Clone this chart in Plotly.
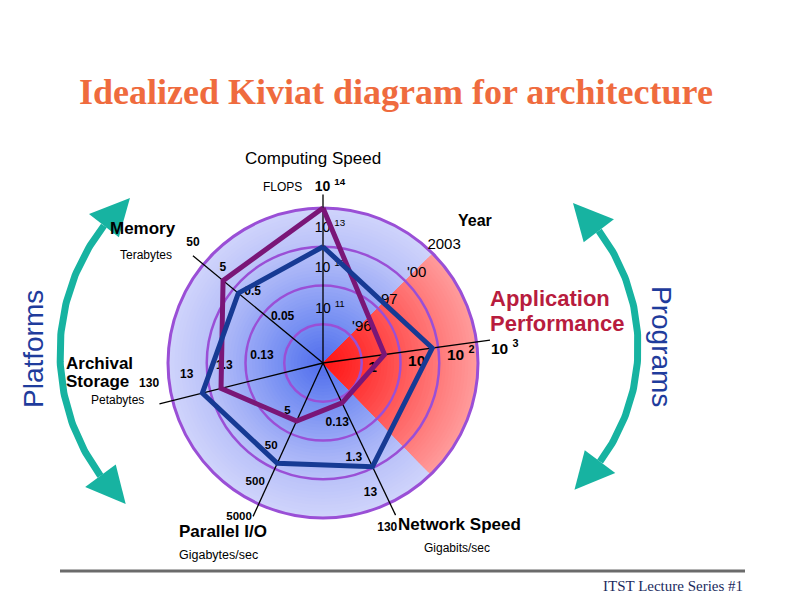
import numpy as np
import plotly.graph_objects as go

# ---------------- data ----------------
axis_names = ["Computing Speed", "Application Performance", "Network Speed",
              "Parallel I/O", "Archival Storage", "Memory"]
axis_units = ["FLOPS", "", "Gigabits/sec", "Gigabytes/sec", "Petabytes", "Terabytes"]
tick_values = [
    [1e11, 1e12, 1e13, 1e14],
    [1, 10, 100, 1000],
    [0.13, 1.3, 13, 130],
    [5, 50, 500, 5000],
    [0.13, 1.3, 13, 130],
    [0.05, 0.5, 5, 50],
]
tick_labels = [
    ["10 <sup>11</sup>", "10 <sup>12</sup>", "10 <sup>13</sup>", "<b>10 <sup>14</sup></b>"],
    ["<b>1</b>", "<b>10</b>", "<b>10 <sup>2</sup></b>", "<b>10 <sup>3</sup></b>"],
    ["<b>0.13</b>", "<b>1.3</b>", "<b>13</b>", "<b>130</b>"],
    ["<b>5</b>", "<b>50</b>", "<b>500</b>", "<b>5000</b>"],
    ["<b>0.13</b>", "<b>1.3</b>", "<b>13</b>", "<b>130</b>"],
    ["<b>0.05</b>", "<b>0.5</b>", "<b>5</b>", "<b>50</b>"],
]
purple_values = [1e14, 4, 0.18, 22, 6.7, 11]
blue_values = [1e13, 70, 12, 350, 21, 3.4]
year_labels = ["'96", "97", "'00", "2003"]

# ---------------- layout / style ----------------
W, H = 792, 612
CX, CY = 323, 363          # pixel position of the chart centre
S = 38.75                  # pixels per ring (one decade)
N_RINGS = 4
SPOKE_LEN = 4.35
axis_angles = [90, 7.8, -64.5, -114.5, -166, 140.5]
label_stretch = [1.05, 1.148, 1.0, 1.0, 1.0, 1.0]
label_offsets = [(7, 12.8), (5.5, -11.2), (-2.5, -25.5), (-19.6, -12.9), (-23.5, 16.2), (-10.5, 21.4)]
label_sizes = [14, 15.5, 12, 11.5, 12, 12]
YEAR_ANGLE = 45
YEAR_OFFSET = (11.5, 8)
SECTOR = (-46, 45)
SANS = "Liberation Sans, Arial, sans-serif"
SERIF = "Liberation Serif, Times New Roman, serif"
PURPLE = "#7a1677"
BLUE = "#163a94"
RING = "#9a4fd6"
TEAL = "#17b3a1"
NAVY = "#1f3c9c"


def level(v, ticks):
    return 1 + np.log10(v / ticks[0])


def px2d(px, py):
    return (px - CX) / S, (CY - py) / S


def pol(r, ang):
    a = np.deg2rad(ang)
    return r * np.cos(a), r * np.sin(a)


def rgb(stops, t):
    stops = np.asarray(stops, float)
    ts = np.linspace(0, 1, len(stops))
    c = [np.interp(t, ts, stops[:, k]) for k in range(3)]
    return "rgb(%d,%d,%d)" % tuple(int(round(x)) for x in c)


fig = go.Figure()
shapes = []

# background radial gradient (blue disc)
blue_stops = [[80, 108, 236], [114, 140, 242], [152, 168, 246], [186, 194, 249], [208, 212, 251]]
NL = 48
for i in range(NL, 0, -1):
    r = N_RINGS * i / NL
    shapes.append(dict(type="circle", xref="x", yref="y", x0=-r, x1=r, y0=-r, y1=r,
                       fillcolor=rgb(blue_stops, (i - 0.5) / NL), line=dict(width=0), layer="below"))

# red sector gradient
red_stops = [[255, 20, 20], [255, 50, 50], [255, 86, 86], [255, 122, 122], [255, 156, 156]]
angs = np.linspace(SECTOR[0], SECTOR[1], 60)
for i in range(NL, 0, -1):
    r = N_RINGS * i / NL
    xs, ys = pol(r, angs)
    path = "M 0,0 " + " ".join("L %.4f,%.4f" % (a, b) for a, b in zip(xs, ys)) + " Z"
    shapes.append(dict(type="path", xref="x", yref="y", path=path,
                       fillcolor=rgb(red_stops, (i - 0.5) / NL), line=dict(width=0), layer="below"))

# rings
for k in range(1, N_RINGS + 1):
    shapes.append(dict(type="circle", xref="x", yref="y", x0=-k, x1=k, y0=-k, y1=k,
                       line=dict(color=RING, width=2.5 if k < N_RINGS else 3), layer="below"))

# bottom rule
shapes.append(dict(type="line", xref="paper", yref="paper", x0=60 / W, x1=745 / W,
                   y0=1 - 571 / H, y1=1 - 571 / H, line=dict(color="#6b6b6b", width=3)))

# spokes
for ang in axis_angles:
    x1, y1 = pol(SPOKE_LEN, ang)
    fig.add_trace(go.Scatter(x=[0, x1], y=[0, y1], mode="lines",
                             line=dict(color="black", width=1.3), hoverinfo="skip", showlegend=False))

# tick labels (under the profiles, as in the original)
for ang, ticks, labs, st, off, fs in zip(axis_angles, tick_values, tick_labels, label_stretch,
                                         label_offsets, label_sizes):
    lv = np.array([level(v, ticks) for v in ticks]) * st
    xs, ys = pol(lv, ang)
    fig.add_trace(go.Scatter(x=xs + off[0] / S, y=ys + off[1] / S, mode="text", text=labs,
                             textposition="middle center",
                             textfont=dict(family=SANS, size=fs, color="black"),
                             hoverinfo="skip", showlegend=False))

# year labels along the sector edge
yl = np.arange(1, len(year_labels) + 1)
xs, ys = pol(yl, YEAR_ANGLE)
fig.add_trace(go.Scatter(x=xs + YEAR_OFFSET[0] / S, y=ys + YEAR_OFFSET[1] / S, mode="text",
                         text=year_labels, textposition="middle center",
                         textfont=dict(family=SANS, size=15, color="black"),
                         hoverinfo="skip", showlegend=False))

# profiles
for vals, col, name in [(purple_values, PURPLE, "purple"), (blue_values, BLUE, "blue")]:
    lv = np.array([level(v, t) for v, t in zip(vals, tick_values)])
    xs, ys = pol(lv, np.array(axis_angles))
    fig.add_trace(go.Scatter(x=np.append(xs, xs[0]), y=np.append(ys, ys[0]), mode="lines",
                             line=dict(color=col, width=5), name=name, hoverinfo="skip",
                             showlegend=False))


# teal double-headed arc arrows (pixel geometry)
def arc_arrow(cxp, cyp, R, a0, a1, hl=38, hw=19):
    dh = np.rad2deg(hl / R)
    a = np.deg2rad(np.linspace(a0 + dh, a1 - dh, 80))
    px = cxp + R * np.cos(a)
    py = cyp + R * np.sin(a)
    x, y = px2d(px, py)
    fig.add_trace(go.Scatter(x=x, y=y, mode="lines", line=dict(color=TEAL, width=7),
                             hoverinfo="skip", showlegend=False))
    for tip_a, base_a in [(a0, a0 + dh), (a1, a1 - dh)]:
        ta, ba = np.deg2rad(tip_a), np.deg2rad(base_a)
        tip = (cxp + R * np.cos(ta), cyp + R * np.sin(ta))
        bc = (cxp + R * np.cos(ba), cyp + R * np.sin(ba))
        nrm = (np.cos(ba), np.sin(ba))
        c1 = (bc[0] + hw * nrm[0], bc[1] + hw * nrm[1])
        c2 = (bc[0] - hw * nrm[0], bc[1] - hw * nrm[1])
        hx, hy = px2d(np.array([tip[0], c1[0], c2[0], tip[0]]), np.array([tip[1], c1[1], c2[1], tip[1]]))
        fig.add_trace(go.Scatter(x=hx, y=hy, mode="lines", fill="toself", fillcolor=TEAL,
                                 line=dict(width=0, color=TEAL), hoverinfo="skip", showlegend=False))


arc_arrow(266.6, 353, 206.6, 133, 228.6)
arc_arrow(446, 347, 192, -48.6, 48.0)

# ---------------- text annotations ----------------
ann = []


def A(text, x, y, size, color="black", family=SANS, xanchor="center", angle=0):
    ann.append(dict(text=text, x=x / W, y=1 - y / H, xref="paper", yref="paper", showarrow=False,
                    xanchor=xanchor, yanchor="middle", textangle=angle,
                    font=dict(family=family, size=size, color=color)))


A("<b>Idealized Kiviat diagram for architecture</b>", 396, 92, 36, "#ef6b3e", SERIF)
A(axis_names[0], 313, 159, 17)
A(axis_units[0], 282, 187, 12)
A("<b>" + axis_names[5] + "</b>", 143, 228, 17)
A(axis_units[5], 146, 255, 12)
A("<b>Year</b>", 475, 220, 16)
A("<b>Application</b>", 488, 298, 22, "#b81c3e", xanchor="left")
A("<b>Performance</b>", 488, 323, 22, "#b81c3e", xanchor="left")
A("Programs", 662, 346, 28, NAVY, angle=90)
A("Platforms", 33, 349, 28, NAVY, angle=-90)
A("<b>Archival</b>", 64, 363, 17, xanchor="left")
A("<b>Storage</b>", 64, 381, 17, xanchor="left")
A(axis_units[4], 118, 400, 12)
A("<b>" + axis_names[3] + "</b>", 223, 531, 17)
A(axis_units[3], 219, 555, 12.5)
A("<b>" + axis_names[2] + "</b>", 459, 524, 17)
A(axis_units[2], 457, 548, 12)
A("ITST Lecture Series #1", 673, 586, 15, "#1b2b5e", SERIF)

x0, _ = px2d(0, 0)
x1, _ = px2d(W, 0)
_, y0 = px2d(0, H)
_, y1 = px2d(0, 0)
fig.update_layout(
    width=W, height=H, autosize=False,
    margin=dict(l=0, r=0, t=0, b=0),
    paper_bgcolor="white", plot_bgcolor="white",
    xaxis=dict(range=[x0, x1], visible=False, domain=[0, 1], fixedrange=True),
    yaxis=dict(range=[y0, y1], visible=False, domain=[0, 1], fixedrange=True),
    shapes=shapes, annotations=ann, showlegend=False,
)
fig.write_html("out.html", config={"displayModeBar": False},
               post_script="document.body.style.margin='0px';document.body.style.overflow='hidden';")
